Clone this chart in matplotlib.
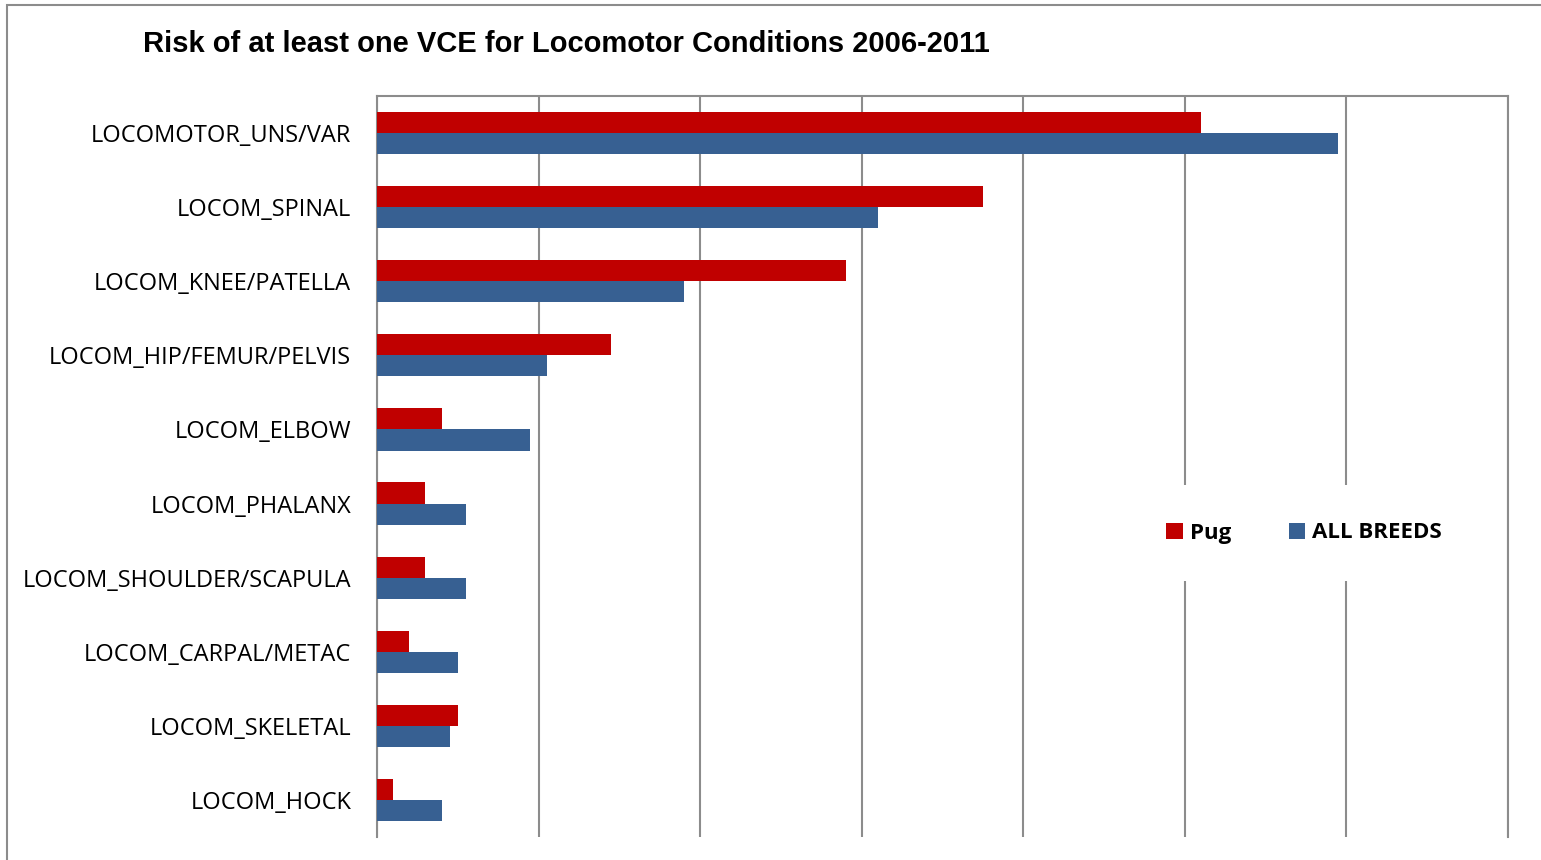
import matplotlib.pyplot as plt
import numpy as np
from matplotlib.patches import Rectangle

categories = ['LOCOMOTOR_UNS/VAR', 'LOCOM_SPINAL', 'LOCOM_KNEE/PATELLA',
              'LOCOM_HIP/FEMUR/PELVIS', 'LOCOM_ELBOW', 'LOCOM_PHALANX',
              'LOCOM_SHOULDER/SCAPULA', 'LOCOM_CARPAL/METAC', 'LOCOM_SKELETAL',
              'LOCOM_HOCK']
pug = [5.10, 3.75, 2.90, 1.45, 0.40, 0.30, 0.30, 0.20, 0.50, 0.10]
all_breeds = [5.95, 3.10, 1.90, 1.05, 0.95, 0.55, 0.55, 0.50, 0.45, 0.40]

red = '#C00000'
blue = '#376092'
grid_col = '#8C8C8C'

W, H = 1541, 860
fig = plt.figure(figsize=(W / 100, H / 100), dpi=100)
ax = fig.add_axes([377 / W, 1 - 837 / H, (1508 - 377) / W, (837 - 96) / H])

y = np.arange(len(categories))
bh = 0.285
ax.barh(y - bh / 2, pug, height=bh, color=red, label='Pug', zorder=3)
ax.barh(y + bh / 2, all_breeds, height=bh, color=blue, label='ALL BREEDS', zorder=3)

ax.set_xlim(0, 7)
ax.set_ylim(len(categories) - 0.5, -0.5)
ax.set_xticks(np.arange(0, 8))
ax.set_xticklabels([])
ax.tick_params(axis='x', length=0)
ax.tick_params(axis='y', length=0, pad=18.5)
ax.set_yticks(y)
ax.set_yticklabels(categories, fontsize=17, family='Open Sans')
ax.grid(axis='x', color=grid_col, linewidth=1.5, zorder=0)

ax.spines['bottom'].set_visible(False)
for s in ['top', 'left', 'right']:
    ax.spines[s].set_color(grid_col)
    ax.spines[s].set_linewidth(1.5)

leg = ax.legend(loc='center', bbox_to_anchor=((1304 - 377) / (1508 - 377), (837 - 533) / (837 - 96)),
                ncol=2, frameon=True, fancybox=False, edgecolor='none', framealpha=1,
                handlelength=0.75, handleheight=0.75, columnspacing=2.6, handletextpad=0.3,
                borderpad=1.7, prop={'family': 'Open Sans', 'weight': 'bold', 'size': 16})
leg.set_zorder(5)

fig.text(143 / W, 1 - 44 / H, 'Risk of at least one VCE for Locomotor Conditions 2006-2011',
         fontsize=21, fontweight='bold', family='Liberation Sans', va='center', ha='left')

fig.patches.append(Rectangle((7 / W, -0.1), 1.2, 1 - 5 / H + 0.1, transform=fig.transFigure,
                             fill=False, edgecolor=grid_col, linewidth=1.5))

plt.savefig('out.png', dpi=100)
